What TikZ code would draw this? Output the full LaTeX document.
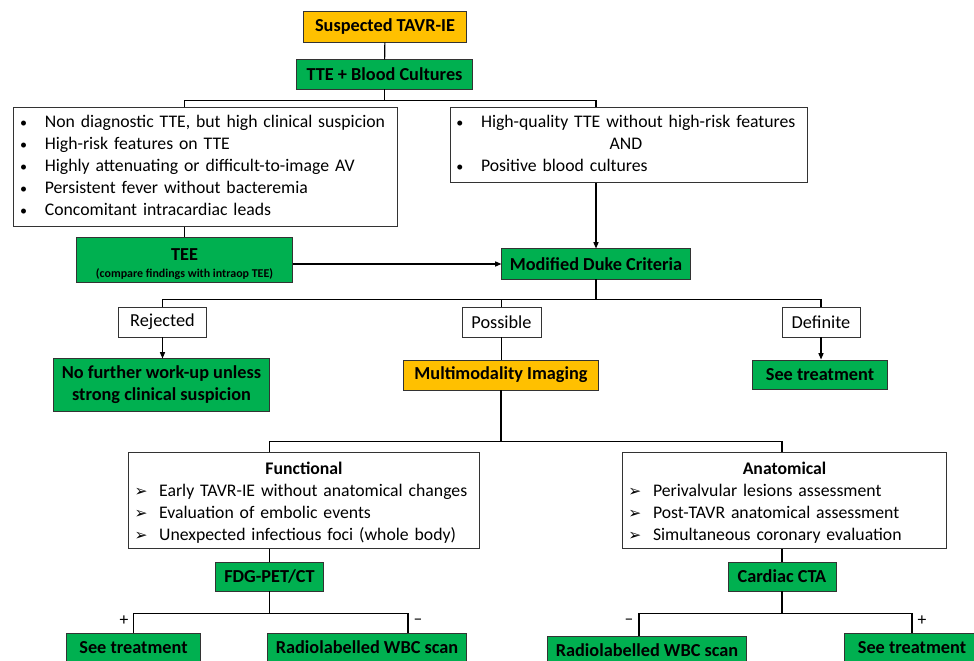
\documentclass[tikz,border=0pt]{standalone}
\usepackage{fontspec}
\setmainfont{Carlito}
\newfontfamily\symfont{DejaVu Sans}
\usetikzlibrary{arrows.meta}
\definecolor{grn}{HTML}{00B050}
\definecolor{org}{HTML}{FFC000}
\newcommand{\bul}{\makebox[17.5pt][l]{\fontsize{10}{10}\selectfont\textbullet}}
\newcommand{\arrbul}{\makebox[17.5pt][l]{\symfont\fontsize{11}{11}\selectfont ➢}}

\begin{document}
\begin{tikzpicture}[x=0.025cm,y=-0.025cm,
  base/.style={draw=black!80,line width=0.7pt,inner sep=1pt,font=\fontsize{13}{15.65}\selectfont},
  gbox/.style={base,fill=grn,font=\fontsize{13}{15.65}\selectfont\bfseries,minimum height=0.725cm},
  obox/.style={gbox,fill=org,minimum height=0.75cm},
  wbox/.style={base,fill=white,minimum height=0.75cm},
  lst/.style={base,fill=white,align=left,inner xsep=4.5pt,font=\fontsize{12.6}{15.65}\selectfont},
  line/.style={line width=0.8pt},
  arr/.style={line,-{Triangle[length=4.5pt,width=3.6pt]}},
  sgn/.style={font=\fontsize{12.5}{12.5}\selectfont}]
 \useasboundingbox (0,0) rectangle (974,661);
 \clip (0,0) rectangle (974,661);
 % start
 \node[obox,minimum width=4.05cm] (susp) at (385,27) {Suspected TAVR-IE};
 \node[gbox,minimum width=4.375cm] (ttebc) at (384.5,74.5) {TTE + Blood Cultures};
 \node[lst,minimum height=2.95cm,text width=263.5pt] (hisusp) at (205.5,167)
   {\begin{tabular}{@{}l@{}}
    \bul Non diagnostic TTE, but high clinical suspicion\\
    \bul High-risk features on TTE\\
    \bul Highly attenuating or difficult-to-image AV\\
    \bul Persistent fever without bacteremia\\
    \bul Concomitant intracardiac leads
    \end{tabular}};
 \node[lst,minimum height=1.875cm,text width=245.5pt] (hiqual) at (629,145)
   {\begin{tabular}{@{}l@{}}
    \bul High-quality TTE without high-risk features\\
    \multicolumn{1}{c}{AND}\\
    \bul Positive blood cultures
    \end{tabular}};
 \node[gbox,minimum width=5.375cm,minimum height=1.1cm,align=center,text height=27pt] (tee) at (184.5,260)
   {TEE\\[-3.5pt]{\fontsize{8.5}{10}\selectfont (compare findings with intraop TEE)}};
 \node[gbox,minimum width=4.7cm,minimum height=0.75cm] (duke) at (596,264) {Modified Duke Criteria};
 % duke outcomes
 \node[wbox,minimum width=2.175cm] (rej) at (162.5,322) {Rejected};
 \node[wbox,minimum width=1.975cm] (poss) at (501.5,322) {Possible};
 \node[wbox,minimum width=1.95cm] (defi) at (821,322) {Definite};
 \node[gbox,minimum width=5.375cm,minimum height=1.3cm,align=center] (nofur) at (161.5,385)
   {No further work-up unless\\strong clinical suspicion};
 \node[obox,minimum width=4.85cm] (multi) at (501,375) {Multimodality Imaging};
 \node[gbox,minimum width=3.35cm] (seetA) at (820,374.5) {See treatment};
 % imaging
 \node[lst,minimum height=2.375cm,text width=241pt,text height=14pt] (func) at (304,500.5)
   {\makebox[\linewidth]{\bfseries Functional}\\
    \begin{tabular}[t]{@{}l@{}}
    \arrbul Early TAVR-IE without anatomical changes\\
    \arrbul Evaluation of embolic events\\
    \arrbul Unexpected infectious foci (whole body)
    \end{tabular}};
 \node[lst,minimum height=2.375cm,text width=222pt,text height=14pt] (anat) at (784.5,500.5)
   {\makebox[\linewidth]{\bfseries Anatomical}\\
    \begin{tabular}[t]{@{}l@{}}
    \arrbul Perivalvular lesions assessment\\
    \arrbul Post-TAVR anatomical assessment\\
    \arrbul Simultaneous coronary evaluation
    \end{tabular}};
 \node[gbox,minimum width=2.675cm] (fdg) at (269.5,576.5) {FDG-PET/CT};
 \node[gbox,minimum width=2.7cm] (cta) at (782,576.5) {Cardiac CTA};
 \node[gbox,minimum width=3.35cm] (seetB) at (133.5,647.5) {See treatment};
 \node[gbox,minimum width=4.95cm] (wbcA) at (367,647.5) {Radiolabelled WBC scan};
 \node[gbox,minimum width=4.95cm] (wbcB) at (647,650.5) {Radiolabelled WBC scan};
 \node[gbox,minimum width=3.35cm] (seetC) at (912,647.5) {See treatment};
 \node[sgn] (plusA) at (124,621) {+};
 \node[sgn] (minA) at (418,622) {\textendash};
 \node[sgn] (minB) at (629,622) {\textendash};
 \node[sgn] (plusB) at (922,621) {+};
 \coordinate (dropA) at (408,0);
 \coordinate (dropB) at (639,0);
 % connectors
 \draw[line] (susp) -- (ttebc);
 \draw[line] (ttebc.south) -- ++(0,11) coordinate (splitA);
 \draw[line] (hisusp.north -| tee) |- (splitA) -| (hiqual.north -| duke);
 \draw[line] (hisusp.south -| tee) -- (tee.north);
 \draw[arr] (hiqual.south -| duke) -- (duke.north);
 \draw[arr] (duke.west -| tee.east) -- (duke.west);
 \draw[line] (duke.south) -- ++(0,20) coordinate (splitB);
 \draw[line] (rej.north) |- (splitB) -| (defi.north);
 \draw[line] (poss.north) -- (poss.north |- splitB);
 \draw[arr] (rej.south) -- (rej.south |- nofur.north);
 \draw[line] (poss.south) -- (poss.south |- multi.north);
 \draw[arr] (defi.south) -- (defi.south |- seetA.north);
 \draw[line] (multi.south) -- ++(0,51) coordinate (splitC);
 \draw[line] (func.north -| fdg) |- (splitC) -| (anat.north -| cta);
 \draw[line] (func.south -| fdg) -- (fdg.north);
 \draw[line] (anat.south -| cta) -- (cta.north);
 \draw[line] (fdg.south) -- ++(0,22) coordinate (splitD);
 \draw[line] (seetB.north) |- (splitD) -| (wbcA.north -| dropA);
 \draw[line] (cta.south) -- ++(0,22) coordinate (splitE);
 \draw[line] (wbcB.north -| dropB) |- (splitE) -| (seetC.north);
\end{tikzpicture}
\end{document}
